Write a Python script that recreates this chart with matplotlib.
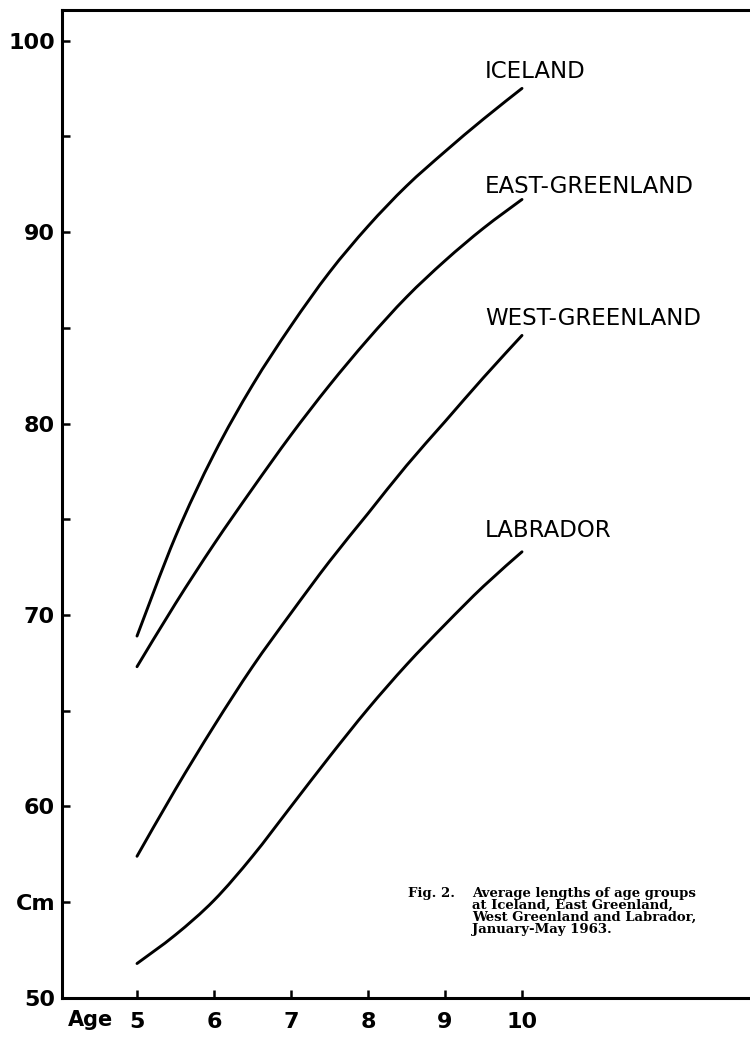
import matplotlib.pyplot as plt
from matplotlib.path import Path
from matplotlib.patches import PathPatch
from matplotlib.ticker import FixedLocator, FixedFormatter

# age groups (at half-year steps)
idade = [5, 5.5, 6, 6.5, 7, 7.5, 8, 8.5, 9, 9.5, 10]

iceland = [68.9, 74.1, 78.4, 82.0, 85.1, 87.9, 90.3, 92.4, 94.2, 95.9, 97.5]
east_greenland = [67.3, 70.6, 73.7, 76.6, 79.4, 82.0, 84.4, 86.6, 88.5, 90.2, 91.7]
west_greenland = [57.4, 60.9, 64.2, 67.3, 70.1, 72.8, 75.3, 77.8, 80.1, 82.4, 84.6]
labrador = [51.8, 53.3, 55.1, 57.4, 60.0, 62.6, 65.1, 67.4, 69.5, 71.5, 73.3]

nomes = ["ICELAND", "EAST-GREENLAND", "WEST-GREENLAND", "LABRADOR"]
pos_nomes = [98.4, 92.4, 85.5, 74.4]

y_ticks = [50, 55, 60, 65, 70, 75, 80, 85, 90, 95, 100]
y_labels = ["50", "Cm", "60", "", "70", "", "80", "", "90", "", "100"]
x_ticks = [5, 6, 7, 8, 9, 10]
x_labels = ["5", "6", "7", "8", "9", "10"]

legenda = ["Average lengths of age groups",
           "at Iceland, East Greenland,",
           "West Greenland and Labrador,",
           "January-May 1963."]


def curva_suave(ax, xs, ys):
    # draws a smooth curve through the points (Catmull-Rom as bezier segments)
    verts = [(xs[0], ys[0])]
    codes = [Path.MOVETO]
    n = len(xs)
    for i in range(n - 1):
        x0, y0 = (xs[i - 1], ys[i - 1]) if i > 0 else (xs[i], ys[i])
        x1, y1 = xs[i], ys[i]
        x2, y2 = xs[i + 1], ys[i + 1]
        x3, y3 = (xs[i + 2], ys[i + 2]) if i + 2 < n else (xs[i + 1], ys[i + 1])
        c1 = (x1 + (x2 - x0) / 6, y1 + (y2 - y0) / 6)
        c2 = (x2 - (x3 - x1) / 6, y2 - (y3 - y1) / 6)
        verts += [c1, c2, (x2, y2)]
        codes += [Path.CURVE4] * 3
    ax.add_patch(PathPatch(Path(verts, codes), facecolor="none", edgecolor="black",
                           linewidth=2.1, capstyle="round"))


fig = plt.figure(figsize=(7.5, 10.38), dpi=100)
ax = fig.add_axes([62 / 750, 40 / 1038, 688 / 750, 988 / 1038])

for serie in [iceland, east_greenland, west_greenland, labrador]:
    curva_suave(ax, idade, serie)

for nome, yv in zip(nomes, pos_nomes):
    ax.text(9.52, yv, nome, fontsize=16.5, va="center", ha="left", color="black")

ax.set_xlim(5 - 75 / 77, 5 + 613 / 77)
ax.set_ylim(50, 50 + 988 / 19.15)

ax.yaxis.set_major_locator(FixedLocator(y_ticks))
ax.yaxis.set_major_formatter(FixedFormatter(y_labels))
ax.xaxis.set_major_locator(FixedLocator(x_ticks))
ax.xaxis.set_major_formatter(FixedFormatter(x_labels))
ax.tick_params(axis="both", direction="in", length=6, width=1.8, labelsize=16)
ax.tick_params(axis="y", pad=5)
ax.tick_params(axis="x", pad=10)
for lab in ax.get_xticklabels() + ax.get_yticklabels():
    lab.set_fontweight("bold")

ax.text(4.39, -0.0225, "Age", transform=ax.get_xaxis_transform(), ha="center", va="center",
        fontsize=15, fontweight="bold")

ax.spines["right"].set_visible(False)
for s in ["left", "bottom", "top"]:
    ax.spines[s].set_linewidth(2.2)

# caption
fig.text(408 / 750, 1 - 893 / 1038, "Fig. 2.", fontsize=9.5, family="DejaVu Serif",
         fontweight="bold", va="center", ha="left")
for i, linha in enumerate(legenda):
    fig.text(472 / 750, 1 - (893 + 12 * i) / 1038, linha, fontsize=9.5,
             family="DejaVu Serif", fontweight="bold", va="center", ha="left")

plt.savefig("out.png", dpi=100)
